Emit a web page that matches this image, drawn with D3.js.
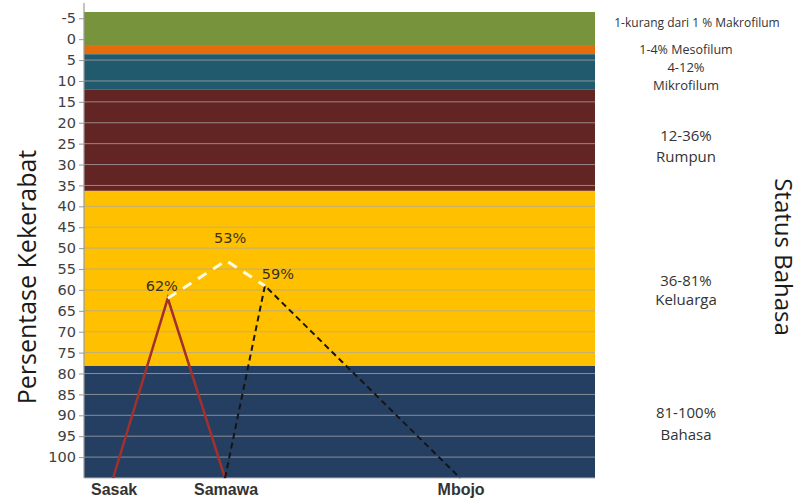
<!DOCTYPE html>
<html><head><meta charset="utf-8">
<script src="https://cdn.jsdelivr.net/npm/d3@7/dist/d3.min.js"></script>
<style>body{margin:0;background:#fff}svg{display:block}</style>
</head><body><svg id="c" width="800" height="501"></svg>
<script>
// ---- data ----
const yTicks = [-5,0,5,10,15,20,25,30,35,40,45,50,55,60,65,70,75,80,85,90,95,100];
const gridValues = [5,10,15,20,25,30,35,40,45,50,55,60,65,70,75,80,85,90,95,100];
const bandFrom = [-6.5, 1.4, 3.6, 12, 36.3, 78.2];
const bandTo   = [1.4, 3.6, 12, 36.3, 78.2, 105];
const bandColors = ["#77933c", "#e46c0a", "#215a6c", "#632523", "#ffc000", "#243f62"];
const categories = ["Sasak", "Samawa", "Mbojo"];
const categoryPos = [5.7, 27.6, 73.6];
const peakLabels = ["62%", "53%", "59%"];
const peakValues = [62, 53, 59];
const peakPos = [16.4, 27.8, 35.4];
const statusLines = ["1-kurang dari 1 % Makrofilum", "1-4% Mesofilum", "4-12%", "Mikrofilum",
  "12-36%", "Rumpun", "36-81%", "Keluarga", "81-100%", "Bahasa"];
const statusAt = [-3.9, 2.6, 6.8, 11, 23.2, 28.2, 57.7, 62.4, 89.4, 94.6];
const statusSize = [12, 12.5, 13, 13, 15, 15, 15, 15, 15, 15];

// ---- layout ----
const svg = d3.select("#c");
const L = 84, R = 595, T = 12, B = 478;
const y = d3.scaleLinear().domain([-6.5, 105]).range([T, B]);
const x = d3.scaleLinear().domain([0, 100]).range([L, R]);

// bands
svg.append("g").selectAll("rect").data(bandFrom).join("rect")
  .attr("x", L).attr("width", R - L)
  .attr("y", (d) => y(d))
  .attr("height", (d, i) => y(bandTo[i]) - y(d))
  .attr("fill", (d, i) => bandColors[i]);

// gridlines
svg.append("g").selectAll("line").data(gridValues).join("line")
  .attr("x1", L).attr("x2", R)
  .attr("y1", d => y(d)).attr("y2", d => y(d))
  .attr("stroke", "#a8a8a8").attr("stroke-opacity", 0.75).attr("stroke-width", 1);

// y axis
const yAxis = d3.axisLeft(y).tickValues(yTicks).tickSize(5).tickPadding(3).tickFormat(d => String(d));
const ga = svg.append("g").attr("transform", `translate(${L},0)`).call(yAxis);
ga.select(".domain").remove();
ga.selectAll(".tick line").attr("stroke", "#999");
ga.selectAll(".tick text").attr("fill", "#404040")
  .style("font-family", "DejaVu Sans, sans-serif").style("font-size", "14.5px");
svg.append("line").attr("x1", L).attr("x2", L).attr("y1", 3).attr("y2", B)
  .attr("stroke", "#9a9a9a").attr("stroke-width", 1.2);
svg.append("line").attr("x1", L).attr("x2", R).attr("y1", B).attr("y2", B)
  .attr("stroke", "#b5b5b5").attr("stroke-width", 1.2);

// lines
const line = d3.line().x(d => x(d[0])).y(d => y(d[1]));
const ymax = y.domain()[1];
const redPts = [[categoryPos[0], ymax], [peakPos[0], peakValues[0]], [categoryPos[1], ymax]];
const blackPts = [[categoryPos[1], ymax], [peakPos[2], peakValues[2]], [categoryPos[2], ymax]];
const whitePts = peakPos.map((p, i) => [p, peakValues[i]]);

svg.append("path").attr("d", line(redPts)).attr("fill", "none")
  .attr("stroke", "#a3302c").attr("stroke-width", 2.5);
svg.append("path").attr("d", line(blackPts)).attr("fill", "none")
  .attr("stroke", "#151515").attr("stroke-width", 2).attr("stroke-dasharray", "6,4");
svg.append("path").attr("d", line(whitePts)).attr("fill", "none")
  .attr("stroke", "#fffbe0").attr("stroke-width", 3).attr("stroke-dasharray", "10,8");

// peak labels
const labDx = [-6, 4, 13];
const labDy = [-7, -18, -7];
svg.append("g").selectAll("text").data(peakLabels).join("text")
  .attr("x", (d, i) => x(peakPos[i]) + labDx[i])
  .attr("y", (d, i) => y(peakValues[i]) + labDy[i])
  .attr("text-anchor", "middle")
  .style("font-family", "DejaVu Sans, sans-serif").style("font-size", "14.5px")
  .attr("fill", "#3a3020").text(d => d);

// category labels
svg.append("g").selectAll("text").data(categories).join("text")
  .attr("x", (d, i) => x(categoryPos[i]) + 1)
  .attr("y", 495)
  .attr("text-anchor", "middle")
  .style("font-family", "Liberation Sans, Arial, sans-serif").style("font-weight", "bold")
  .style("font-size", "16px").attr("fill", "#333").text(d => d);

// status labels
svg.append("g").selectAll("text").data(statusLines).join("text")
  .attr("x", (d, i) => i === 0 ? 697 : 686)
  .attr("y", (d, i) => y(statusAt[i]))
  .attr("dy", "0.35em")
  .attr("text-anchor", "middle")
  .style("font-family", "Open Sans, sans-serif")
  .style("font-size", (d, i) => statusSize[i] + "px")
  .attr("fill", "#333").text(d => d);

// axis titles
svg.append("text").attr("transform", "translate(36,277) rotate(-90)")
  .attr("text-anchor", "middle")
  .style("font-family", "Open Sans, sans-serif").style("font-size", "25px")
  .attr("fill", "#1a1a1a").text("Persentase Kekerabat");
svg.append("text").attr("transform", "translate(775,257) rotate(90)")
  .attr("text-anchor", "middle")
  .style("font-family", "Open Sans, sans-serif").style("font-size", "24px")
  .attr("fill", "#1a1a1a").text("Status Bahasa");
</script></body></html>
